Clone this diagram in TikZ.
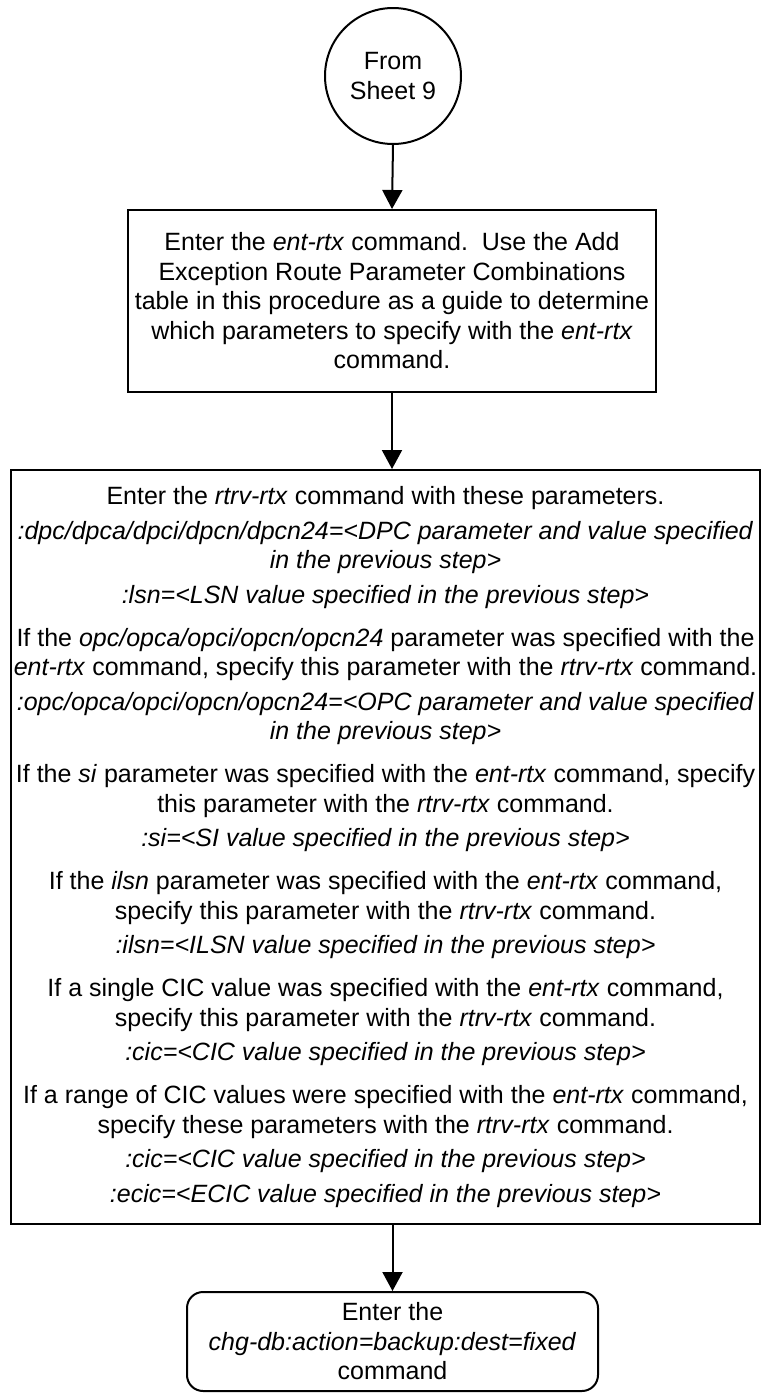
\documentclass[tikz,border=0pt]{standalone}
\usepackage{fontspec}
\setmainfont{Liberation Sans}
\usetikzlibrary{arrows.meta}
\begin{document}
\begin{tikzpicture}[x=1pt,y=-1pt,
  every node/.style={font=\fontsize{25}{29.5}\selectfont},
  boxstyle/.style={draw, line width=2pt, inner sep=0pt, align=center},
  conn/.style={line width=2pt, -{Triangle[width=20pt,length=19pt]}}]
\useasboundingbox (0,0) rectangle (762,1393);
\node[boxstyle, circle, minimum size=136pt] (c) at (393,76) {From\\Sheet 9};
\node[boxstyle, minimum width=528pt, minimum height=182pt] (b1) at (392,301)
  {Enter the \textit{ent-rtx} command.\ \ Use the Add\\
   Exception Route Parameter Combinations\\
   table in this procedure as a guide to determine\\
   which parameters to specify with the \textit{ent-rtx}\\
   command.};
\node[boxstyle, minimum width=749pt, minimum height=754pt] (b2) at (385.5,847)
  {Enter the \textit{rtrv-rtx} command with these parameters.\\[5pt]
   \textit{:dpc/dpca/dpci/dpcn/dpcn24=<DPC parameter and value specified}\\
   \textit{in the previous step>}\\[5pt]
   \textit{:lsn=<LSN value specified in the previous step>}\\[13.5pt]
   If the \textit{opc/opca/opci/opcn/opcn24} parameter was specified with the\\
   \textit{ent-rtx} command, specify this parameter with the \textit{rtrv-rtx} command.\\[5pt]
   \textit{:opc/opca/opci/opcn/opcn24=<OPC parameter and value specified}\\
   \textit{in the previous step>}\\[13.5pt]
   If the \textit{si} parameter was specified with the \textit{ent-rtx} command, specify\\
   this parameter with the \textit{rtrv-rtx} command.\\[5pt]
   \textit{:si=<SI value specified in the previous step>}\\[13.5pt]
   If the \textit{ilsn} parameter was specified with the \textit{ent-rtx} command,\\
   specify this parameter with the \textit{rtrv-rtx} command.\\[5pt]
   \textit{:ilsn=<ILSN value specified in the previous step>}\\[13.5pt]
   If a single CIC value was specified with the \textit{ent-rtx} command,\\
   specify this parameter with the \textit{rtrv-rtx} command.\\[5pt]
   \textit{:cic=<CIC value specified in the previous step>}\\[13.5pt]
   If a range of CIC values were specified with the \textit{ent-rtx} command,\\
   specify these parameters with the \textit{rtrv-rtx} command.\\[5pt]
   \textit{:cic=<CIC value specified in the previous step>}\\[5pt]
   \textit{:ecic=<ECIC value specified in the previous step>}};
\node[boxstyle, rounded corners=16pt, minimum width=411pt, minimum height=99pt] (e) at (392.5,1341.5)
  {Enter the\\
   \textit{chg-db:action=backup:dest=fixed}\\
   command};
\draw[conn] (c.south) -- (b1.north);
\draw[conn] (b1.south) -- (b1.south |- b2.north);
\draw[conn] (e.north |- b2.south) -- (e.north);
\end{tikzpicture}
\end{document}
